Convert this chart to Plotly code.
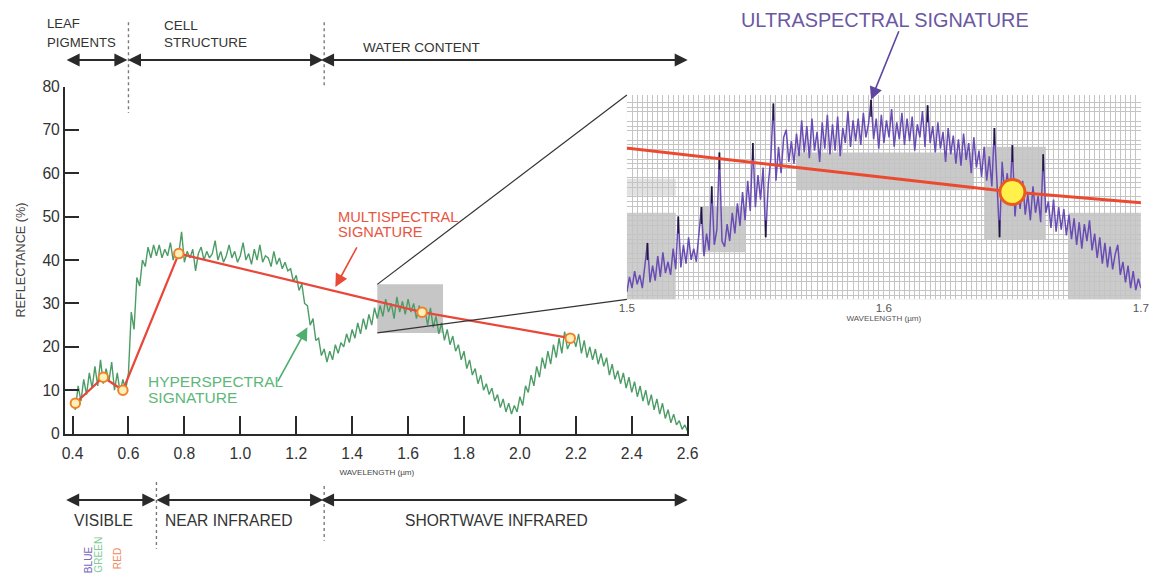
import numpy as np
import plotly.graph_objects as go

# Figure size and the page framing around it (8 px body margin, page
# captured at 1172x592 and shown at 1156x576)
FW, FH = 1156, 576
OFF = 8
SX, SY = 1156 / 1172, 576 / 592
FONT = "Liberation Sans, Arial, Helvetica, sans-serif"

# ---------------------------------------------------------------- data
# Hyperspectral leaf reflectance, 0.40-2.60 µm every 0.01 µm
hyper_wl = np.round(np.arange(0.40, 2.6001, 0.01), 2)
hyper_refl = [
    8.0, 5.5, 11.0, 7.5, 12.5, 9.0, 14.0, 10.5, 15.5, 11.0,      # 0.40
    17.0, 11.5, 15.0, 12.0, 16.5, 10.0, 14.0, 9.5, 12.5, 10.0,   # 0.50
    14.0, 28.0, 24.0, 36.0, 34.0, 40.0, 38.5, 43.0, 40.5, 43.5,  # 0.60
    41.0, 43.5, 40.5, 42.5, 41.0, 44.0, 40.0, 42.5, 41.5, 46.5,  # 0.70
    39.5, 42.0, 40.5, 42.5, 37.5, 41.5, 43.0, 40.0, 42.0, 40.5,  # 0.80
    41.5, 44.5, 40.0, 42.0, 39.5, 41.0, 43.5, 40.5, 42.0, 39.5,  # 0.90
    41.0, 44.0, 40.0, 41.5, 39.0, 42.5, 40.0, 43.5, 39.5, 41.0,  # 1.00
    40.5, 38.5, 42.0, 39.0, 40.5, 38.0, 39.5, 37.5, 38.0, 35.0,  # 1.10
    36.5, 33.0, 34.5, 30.0, 29.5, 25.0, 26.5, 21.5, 22.0, 18.0,  # 1.20
    19.5, 16.5, 19.0, 17.0, 20.5, 18.5, 21.0, 20.0, 23.0, 21.0,  # 1.30
    24.0, 22.0, 25.5, 23.0, 26.5, 24.0, 27.5, 25.0, 29.0, 26.5,  # 1.40
    29.5, 27.0, 31.0, 28.0, 30.0, 26.5, 31.5, 28.0, 30.5, 27.5,  # 1.50
    31.0, 28.0, 30.0, 26.5, 29.5, 27.0, 28.5, 25.0, 29.0, 24.5,  # 1.60
    27.0, 23.0, 25.5, 21.5, 24.0, 20.5, 22.5, 19.0, 20.5, 17.0,  # 1.70
    19.0, 15.0, 17.0, 13.5, 15.0, 11.5, 13.5, 10.0, 11.5, 9.0,   # 1.80
    10.5, 7.5, 9.0, 6.0, 8.0, 5.0, 7.0, 4.5, 6.5, 5.0,           # 1.90
    8.5, 6.5, 11.0, 9.5, 13.5, 11.0, 15.5, 13.0, 17.5, 15.0,     # 2.00
    19.0, 16.0, 20.5, 17.5, 22.0, 18.5, 23.5, 19.5, 21.0, 22.5,  # 2.10
    20.0, 23.0, 18.5, 21.5, 17.5, 20.0, 17.0, 19.5, 16.0, 18.5,  # 2.20
    15.5, 17.5, 13.5, 16.0, 12.5, 14.5, 11.5, 14.0, 10.5, 13.0,  # 2.30
    9.5, 12.0, 8.5, 11.0, 7.5, 10.0, 6.5, 9.0, 5.5, 8.0,         # 2.40
    4.5, 7.0, 3.5, 5.5, 2.5, 4.5, 2.0, 3.0, 1.0, 2.0,            # 2.50
    0.5,                                                         # 2.60
]

# Multispectral band samples
multi_wl = [0.41, 0.51, 0.58, 0.78, 1.65, 2.18]
multi_refl = [7.0, 13.0, 10.0, 41.5, 28.0, 22.0]

# Ultraspectral detail, 1.500-1.700 µm every 0.001 µm
ultra_wl = np.round(np.arange(1.5, 1.70001, 0.001), 3)
ultra_refl = [
    22.7, 23.5, 22.9, 23.8, 23.1, 23.6, 22.9, 24.0, 25.3, 23.2,  # 1.500
    24.1, 23.3, 24.6, 23.5, 24.8, 23.7, 24.3, 23.6, 25.0, 23.9,  # 1.510
    26.7, 24.0, 25.2, 24.2, 25.6, 24.4, 25.0, 24.3, 25.9, 27.2,  # 1.520
    24.6, 25.8, 24.9, 28.3, 25.2, 26.0, 30.1, 25.4, 25.1, 26.3,  # 1.530
    25.4, 26.9, 25.8, 27.4, 26.2, 28.0, 26.5, 28.6, 27.0, 30.6,  # 1.540
    27.2, 28.9, 27.6, 29.3, 25.6, 28.4, 29.8, 32.7, 28.6, 30.4,  # 1.550
    29.0, 30.9, 31.3, 29.6, 30.7, 29.5, 31.1, 29.9, 31.8, 30.1,  # 1.560
    31.5, 29.8, 31.9, 30.2, 31.2, 29.6, 31.7, 30.3, 32.1, 30.0,  # 1.570
    31.6, 30.2, 32.0, 29.9, 31.4, 30.6, 32.3, 30.4, 31.8, 30.7,  # 1.580
    31.9, 30.5, 32.2, 30.9, 31.6, 32.9, 30.8, 31.9, 30.3, 32.1,  # 1.590
    30.6, 31.8, 30.9, 32.4, 30.4, 31.7, 30.8, 32.2, 30.5, 31.9,  # 1.600
    30.7, 32.0, 30.2, 31.6, 30.9, 32.3, 30.4, 32.6, 30.6, 31.5,  # 1.610
    30.1, 31.7, 30.3, 31.2, 29.6, 31.4, 30.0, 31.0, 29.5, 30.8,  # 1.620
    29.4, 31.1, 29.7, 30.6, 29.0, 30.9, 29.3, 30.2, 28.8, 30.4,  # 1.630
    28.6, 29.9, 28.3, 31.4, 28.5, 25.6, 29.6, 27.9, 29.0, 27.6,  # 1.640
    30.5, 26.7, 28.4, 27.1, 28.6, 26.8, 27.9, 26.5, 28.3, 26.9,  # 1.650
    27.8, 26.4, 30.0, 26.9, 27.5, 26.1, 27.6, 25.9, 27.2, 26.0,  # 1.660
    27.1, 25.7, 26.8, 25.5, 26.6, 25.2, 26.4, 25.0, 26.3, 25.4,  # 1.670
    26.5, 24.9, 25.8, 24.5, 25.6, 24.2, 25.3, 24.0, 25.1, 23.9,  # 1.680
    24.7, 25.2, 23.6, 24.3, 23.2, 24.1, 22.9, 23.8, 22.8, 23.4,  # 1.690
    22.9,                                                        # 1.700
]
# Samples whose extremes show up as dark spikes
ultra_spike_wl = [1.508, 1.520, 1.529, 1.533, 1.536, 1.549, 1.554, 1.557,
                  1.595, 1.617, 1.643, 1.645, 1.650, 1.662]

x_ticks = [0.4, 0.6, 0.8, 1.0, 1.2, 1.4, 1.6, 1.8, 2.0, 2.2, 2.4, 2.6]
x_tick_labels = ["0.4", "0.6", "0.8", "1.0", "1.2", "1.4", "1.6", "1.8", "2.0", "2.2", "2.4", "2.6"]
y_ticks = [0, 10, 20, 30, 40, 50, 60, 70, 80]
inset_ticks = [1.5, 1.6, 1.7]
inset_tick_labels = ["1.5", "1.6", "1.7"]

# Spectral regions (label, start µm, end µm)
process_regions = [("LEAF PIGMENTS", 0.373, 0.6), ("CELL STRUCTURE", 0.6, 1.3),
                   ("WATER CONTENT", 1.3, 2.604)]
spectrum_regions = [("VISIBLE", 0.373, 0.7), ("NEAR INFRARED", 0.7, 1.3),
                    ("SHORTWAVE INFRARED", 1.3, 2.604)]


# ---------------------------------------------------------------- geometry
def px(x):
    """page pixel column -> paper x"""
    return (x / SX - OFF) / FW


def py(y):
    """page pixel row -> paper y"""
    return 1 - (y / SY - OFF) / FH


def fs(size):
    """font size as seen on the page"""
    return size / SX


MX_DOM = (px(65), px(690))
MY_DOM = (py(434.5), py(86.5))
MX_RANGE = (0.373, 2.604)
MY_RANGE = (0, 80)
IX_DOM = (px(628), px(1143))
IY_DOM = (py(300), py(95))
IX_RANGE = (1.5, 1.7)
IY_RANGE = (22.3, 33.15)
BOX_WL = (1.49, 1.725)
BOX_REFL = (23.2, 34.4)


def main_xp(v):
    return MX_DOM[0] + (v - MX_RANGE[0]) / (MX_RANGE[1] - MX_RANGE[0]) * (MX_DOM[1] - MX_DOM[0])


def main_yp(v):
    return MY_DOM[0] + (v - MY_RANGE[0]) / (MY_RANGE[1] - MY_RANGE[0]) * (MY_DOM[1] - MY_DOM[0])


GREEN = "#4c9c66"
RED = "#e8473a"
PURPLE = "#6a4db4"
INK = "#2a2a2a"

fig = go.Figure()

# ---------------------------------------------------------------- main chart
fig.add_trace(go.Scatter(
    x=hyper_wl, y=hyper_refl, mode="lines", xaxis="x", yaxis="y",
    line=dict(color=GREEN, width=1.4), hoverinfo="skip", showlegend=False))
fig.add_trace(go.Scatter(
    x=multi_wl, y=multi_refl, mode="lines+markers", xaxis="x", yaxis="y",
    line=dict(color=RED, width=2.2),
    marker=dict(size=9.5, color="#fff0b8", line=dict(color="#f0802a", width=2)),
    hoverinfo="skip", showlegend=False))

# ---------------------------------------------------------------- inset
fig.add_trace(go.Scatter(
    x=ultra_wl, y=ultra_refl, mode="lines", xaxis="x2", yaxis="y2",
    line=dict(color=PURPLE, width=1.5), hoverinfo="skip", showlegend=False))

# dark tips on the strongest spikes
spike_x, spike_y = [], []
ultra_arr = np.array(ultra_refl)
for w in ultra_spike_wl:
    i = int(round((w - 1.5) / 0.001))
    v = ultra_arr[i]
    nb = (ultra_arr[max(i - 1, 0)] + ultra_arr[min(i + 1, len(ultra_arr) - 1)]) / 2
    tip = 0.9 if v > nb else -0.9
    spike_x += [ultra_wl[i], ultra_wl[i], None]
    spike_y += [v, v - tip, None]
fig.add_trace(go.Scatter(
    x=spike_x, y=spike_y, mode="lines", xaxis="x2", yaxis="y2",
    line=dict(color="#1e1830", width=1.6), hoverinfo="skip", showlegend=False))

fig.add_trace(go.Scatter(
    x=multi_wl, y=multi_refl, mode="lines", xaxis="x2", yaxis="y2",
    line=dict(color="#ec4a30", width=3), hoverinfo="skip", showlegend=False))
in_view = [(w, r) for w, r in zip(multi_wl, multi_refl) if IX_RANGE[0] <= w <= IX_RANGE[1]]
fig.add_trace(go.Scatter(
    x=[w for w, _ in in_view], y=[r for _, r in in_view], mode="markers",
    xaxis="x2", yaxis="y2",
    marker=dict(size=25, color="#fff04a", line=dict(color="#ea5a22", width=3)),
    hoverinfo="skip", showlegend=False))

# ---------------------------------------------------------------- shapes
shapes = []
# inset graph-paper background and shaded patches
shapes.append(dict(type="rect", xref="x2 domain", yref="y2 domain", x0=0, x1=1, y0=0, y1=1,
                   fillcolor="#d6d6d6", line=dict(width=0), layer="below"))
patches = [
    ((1.566, 1.635), (28.1, 30.1), "#c9c9c9"),
    ((1.639, 1.663), (25.5, 30.4), "#c9c9c9"),
    ((1.529, 1.546), (24.8, 27.2), "#cbcbcb"),
    ((1.672, 1.700), (22.3, 26.9), "#cbcbcb"),
    ((1.500, 1.519), (22.3, 26.9), "#cdcdcd"),
    ((1.500, 1.519), (27.8, 28.7), "#e2e2e2"),
]
for (x0, x1), (y0, y1), c in patches:
    shapes.append(dict(type="rect", xref="x2", yref="y2", x0=x0, x1=x1, y0=y0, y1=y1,
                       fillcolor=c, line=dict(width=0), layer="below"))

# zoom window on the main spectrum
shapes.append(dict(type="rect", xref="x", yref="y", x0=BOX_WL[0], x1=BOX_WL[1],
                   y0=BOX_REFL[0], y1=BOX_REFL[1], fillcolor="rgba(120,120,120,0.42)",
                   line=dict(width=0), layer="below"))
# connectors to the inset
for yv, iy in ((BOX_REFL[1], IY_DOM[1]), (BOX_REFL[0], IY_DOM[0])):
    shapes.append(dict(type="line", xref="paper", yref="paper",
                       x0=main_xp(BOX_WL[0]), y0=main_yp(yv), x1=IX_DOM[0], y1=iy,
                       line=dict(color="#333333", width=1.2)))

# dotted region boundaries
for xv, ytop, ybot in ((0.6, 22, 113), (1.3, 22, 88), (0.7, 483, 550), (1.3, 487, 542)):
    shapes.append(dict(type="line", xref="paper", yref="paper",
                       x0=main_xp(xv), x1=main_xp(xv), y0=py(ytop), y1=py(ybot),
                       line=dict(color="#7a7a7a", width=1.4, dash="dot")))

# ---------------------------------------------------------------- annotations
anns = []


def text(t, x, y, size, color, xanchor="left", angle=0, yanchor="middle"):
    anns.append(dict(text=t, xref="paper", yref="paper", x=px(x), y=py(y),
                     xanchor=xanchor, yanchor=yanchor, showarrow=False, textangle=angle,
                     font=dict(family=FONT, size=fs(size), color=color)))


def span_arrow(x0, x1, y):
    anns.append(dict(text="", xref="paper", yref="paper", axref="pixel", ayref="pixel",
                     x=main_xp(x1), y=py(y), ax=-(main_xp(x1) - main_xp(x0)) * FW, ay=0,
                     showarrow=True, arrowside="end+start", arrowhead=2, startarrowhead=2,
                     arrowsize=1.3, startarrowsize=1.3, arrowwidth=2, arrowcolor=INK))


for _, a, b in process_regions:
    span_arrow(a + 0.004, b - 0.004, 60)
for _, a, b in spectrum_regions:
    span_arrow(a + 0.004, b - 0.004, 501)

text("LEAF", 45, 23, 13, "#333")
text("PIGMENTS", 45, 42, 13, "#333")
text("CELL", 162, 25, 13.3, "#333")
text("STRUCTURE", 162, 42, 13.3, "#333")
text("WATER CONTENT", 362, 47, 13.4, "#333")

text("VISIBLE", 104, 522, 15.4, "#333", xanchor="center")
text("NEAR INFRARED", 229, 522, 15.4, "#333", xanchor="center")
text("SHORTWAVE INFRARED", 497, 522, 15.4, "#333", xanchor="center")

text("BLUE", 88, 576, 10, "#7467c2", xanchor="center", angle=-90, yanchor="bottom")
text("GREEN", 99, 576, 10, "#7fcc95", xanchor="center", angle=-90, yanchor="bottom")
text("RED", 117, 572, 10, "#f08a62", xanchor="center", angle=-90, yanchor="bottom")

text("MULTISPECTRAL", 337, 217, 14.5, "#e8553f")
text("SIGNATURE", 337, 232, 14.5, "#e8553f")
text("HYPERSPECTRAL", 146, 382, 15.3, "#5db878")
text("SIGNATURE", 146, 398, 15.3, "#5db878")
text("ULTRASPECTRAL SIGNATURE", 887, 20, 19.6, "#6b58a2", xanchor="center")


def pointer(xref, yref, x, y, dx, dy, color):
    anns.append(dict(text="", xref=xref, yref=yref, x=x, y=y, ax=dx / SX, ay=dy / SY,
                     axref="pixel", ayref="pixel", showarrow=True, arrowhead=2,
                     arrowsize=1.6, arrowwidth=1.6, arrowcolor=color))


pointer("x", "y", 1.34, float(np.interp(1.34, multi_wl, multi_refl)) + 1.0, 22, -40, "#e84a35")
pointer("x", "y", 1.24, 24.5, -30, 54, "#4fae70")
pointer("x2", "y2", 1.595, 32.9, 28, -68, "#5f479f")

# ---------------------------------------------------------------- layout
fig.update_layout(
    width=FW, height=FH, autosize=False, margin=dict(l=0, r=0, t=0, b=0, pad=0),
    paper_bgcolor="white", plot_bgcolor="white",
    font=dict(family=FONT, color="#333"),
    showlegend=False,
    shapes=shapes, annotations=anns,
    xaxis=dict(domain=list(MX_DOM), range=list(MX_RANGE), anchor="y",
               showline=True, linecolor=INK, linewidth=2,
               ticks="inside", ticklen=17 / SY, tickwidth=1.5, tickcolor=INK,
               tickmode="array", tickvals=x_ticks, ticktext=x_tick_labels,
               tickfont=dict(size=fs(15.5), color="#333"), ticklabelstandoff=5,
               showgrid=False, zeroline=False,
               title=dict(text="WAVELENGTH (µm)", font=dict(size=fs(8), color="#444"), standoff=8)),
    yaxis=dict(domain=list(MY_DOM), range=list(MY_RANGE), anchor="x",
               showline=True, linecolor=INK, linewidth=2,
               ticks="inside", ticklen=14 / SX, tickwidth=1.5, tickcolor=INK,
               tickmode="array", tickvals=y_ticks,
               tickfont=dict(size=fs(15.5), color="#333"),
               showgrid=False, zeroline=False,
               title=dict(text="REFLECTANCE (%)", font=dict(size=fs(12.5), color="#444"), standoff=14)),
    xaxis2=dict(domain=list(IX_DOM), range=list(IX_RANGE), anchor="y2",
                showline=False, ticks="", tickmode="array", tickvals=inset_ticks,
                ticktext=inset_tick_labels, tickfont=dict(size=fs(11.5), color="#555"),
                showgrid=False, zeroline=False,
                minor=dict(dtick=0.002, tick0=1.5, showgrid=True, gridcolor="#c4c4c4", gridwidth=1),
                title=dict(text="WAVELENGTH (µm)", font=dict(size=fs(8), color="#555"), standoff=2)),
    yaxis2=dict(domain=list(IY_DOM), range=list(IY_RANGE), anchor="x2",
                showline=False, ticks="", showticklabels=False,
                showgrid=False, zeroline=False, dtick=1,
                minor=dict(dtick=0.25, showgrid=True, gridcolor="#c4c4c4", gridwidth=1)),
)

fig.write_html("out.html")
